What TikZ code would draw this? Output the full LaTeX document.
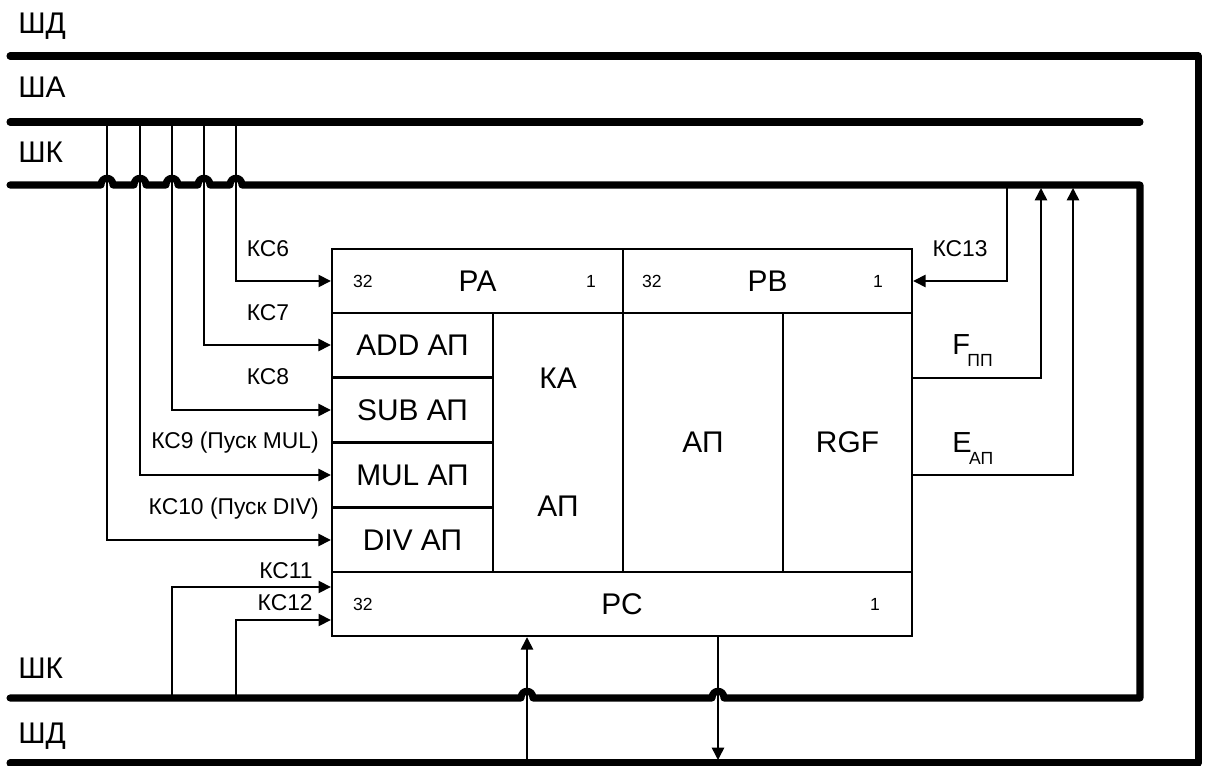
\documentclass[tikz,border=0pt]{standalone}
\usepackage{fontspec}
\setmainfont{Liberation Sans}
\usetikzlibrary{arrows.meta, positioning, calc}

\begin{document}
\begin{tikzpicture}[x=0.02cm, y=-0.02cm,
    bus/.style={line width=4pt, line cap=round, line join=round},
    sig/.style={line width=0.85pt},
    arr/.style={sig, -{Triangle[length=7pt, width=7pt]}},
    cell/.style={draw, line width=1.4pt, inner sep=0pt, font=\fontsize{17}{19}\selectfont},
    buslbl/.style={anchor=base west, inner sep=0pt, font=\fontsize{17}{19}\selectfont},
    ks/.style={inner sep=0pt, font=\fontsize{13}{15}\selectfont},
    bit/.style={inner sep=0pt, font=\fontsize{10}{11}\selectfont},
    flag/.style={anchor=base west, inner sep=0pt, font=\fontsize{16.5}{18}\selectfont}]
  \useasboundingbox (0,0) rectangle (1207,766);

  \draw[bus] (10,56) -- (1198,56) -- (1198,763) -- (10,763);
  \draw[bus] (10,122) -- (1140,122);
  \draw[bus] (10,185)
    \foreach \x in {107,140,172,204,236} {
      -- (\x-6,185) .. controls (\x-6,176) and (\x+6,176) .. (\x+6,185)}
    -- (1140,185) -- (1140,698)
    -- (724,698) .. controls (724,689) and (712,689) .. (712,698)
    -- (533,698) .. controls (533,689) and (521,689) .. (521,698)
    -- (10,698);

  \node[buslbl] (shd1) at (18,34) {ШД};
  \node[buslbl] (sha) at (18,98) {ША};
  \node[buslbl] (shk1) at (18,163) {ШК};
  \node[buslbl] (shk2) at (18,678) {ШК};
  \node[buslbl] (shd2) at (18,743) {ШД};

  \node[cell, minimum width=5.82cm, minimum height=1.28cm] (pa) at (477.5,281) {РА};
  \node[cell, minimum width=5.78cm, minimum height=1.28cm] (pb) at (767.5,281) {РВ};
  \node[cell, minimum width=3.22cm, minimum height=1.28cm] (add) at (412.5,345) {ADD АП};
  \node[cell, minimum width=3.22cm, minimum height=1.30cm] (sub) at (412.5,410) {SUB АП};
  \node[cell, minimum width=3.22cm, minimum height=1.30cm] (mul) at (412.5,475) {MUL АП};
  \node[cell, minimum width=3.22cm, minimum height=1.28cm] (div) at (412.5,540) {DIV АП};
  \node[cell, minimum width=2.60cm, minimum height=5.18cm] (ka) at (558,442.5) {};
  \node[cell, minimum width=3.20cm, minimum height=5.18cm] (ap) at (703,442.5) {АП};
  \node[cell, minimum width=2.58cm, minimum height=5.18cm] (rgf) at (847.5,442.5) {RGF};
  \node[cell, minimum width=11.60cm, minimum height=1.28cm] (pc) at (622,604) {РС};

  \node[cell, draw=none] (kaTop) at ($(ka.center)+(0,-64)$) {КА};
  \node[cell, draw=none] (kaBot) at ($(ka.center)+(0,64)$) {АП};

  \node[bit, anchor=west] (pa32) at ($(pa.west)+(22,0)$) {32};
  \node[bit, anchor=east] (pa1) at ($(pa.east)+(-28,0)$) {1};
  \node[bit, anchor=west] (pb32) at ($(pb.west)+(20,0)$) {32};
  \node[bit, anchor=east] (pb1) at ($(pb.east)+(-30,0)$) {1};
  \node[bit, anchor=west] (pc32) at ($(pc.west)+(22,0)$) {32};
  \node[bit, anchor=east] (pc1) at ($(pc.east)+(-33,0)$) {1};

  \foreach \x/\c in {236/pa, 204/add, 172/sub, 140/mul, 107/div} {
    \coordinate (t\c) at (\x,122);
    \draw[arr] (t\c) |- (\c.west);
  }
  \node[ks, anchor=base] (l6) at (268,257) {КС6};
  \node[ks, anchor=base] (l7) at (268,321) {КС7};
  \node[ks, anchor=base] (l8) at (268,385) {КС8};
  \node[ks, anchor=base east] (l9) at (319,449) {КС9 (Пуск MUL)};
  \node[ks, anchor=base east] (l10) at (319,515) {КС10 (Пуск DIV)};

  \coordinate (t11) at (172,698);
  \coordinate (t12) at (236,698);
  \draw[arr] (t11) |- ($(pc.west)+(0,-17)$);
  \draw[arr] (t12) |- ($(pc.west)+(0,16)$);
  \node[ks, anchor=base east] (l11) at (313,579) {КС11};
  \node[ks, anchor=base east] (l12) at (313,610) {КС12};

  \coordinate (t13) at (1007,185);
  \draw[arr] (t13) |- (pb.east);
  \node[ks, anchor=base] (l13) at (960,257) {КС13};

  \coordinate (fOut) at (rgf.east |- 0,378);
  \coordinate (fBus) at (1041,188);
  \draw[arr] (fOut) -| (fBus);
  \node[flag] (lf) at (952,355) {F\kern-1.5pt\raisebox{-6.8pt}{\fontsize{10}{11}\selectfont ПП}};
  \coordinate (eOut) at (rgf.east |- 0,475);
  \coordinate (eBus) at (1073,188);
  \draw[arr] (eOut) -| (eBus);
  \node[flag] (le) at (952,453) {E\kern-1.5pt\raisebox{-6.8pt}{\fontsize{10}{11}\selectfont АП}};

  \coordinate (dIn) at (527,763);
  \draw[arr] (dIn) -- (dIn |- pc.south);
  \coordinate (dOut) at (718,760);
  \draw[arr] (dOut |- pc.south) -- (dOut);
\end{tikzpicture}
\end{document}
